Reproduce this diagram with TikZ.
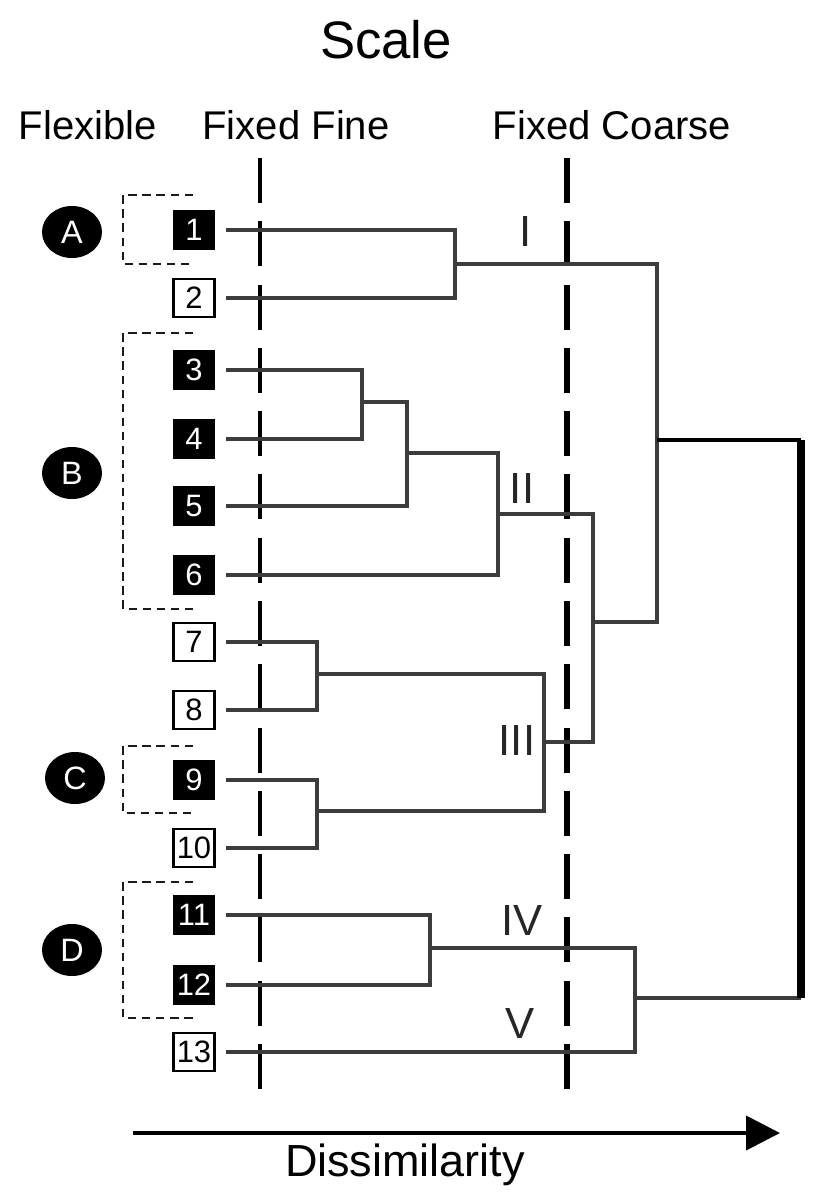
\documentclass[tikz,border=0pt]{standalone}
\usepackage{fontspec}
\setmainfont{Liberation Sans}
\usepackage{tikz}
\usetikzlibrary{positioning,shapes.geometric,arrows.meta}

\definecolor{linkgray}{HTML}{3C3C3C}
\definecolor{boxgray}{HTML}{1A1A1A}

\tikzset{
  leafdark/.style={draw=black, fill=black, text=white, line width=1pt, minimum width=1.02cm,
    minimum height=0.95cm, inner sep=0pt, outer xsep=0.3cm, font=\fontsize{22}{22}\selectfont},
  leaflight/.style={leafdark, fill=white, text=black, line width=2pt},
  grpmark/.style={ellipse, fill=black, text=white, minimum width=1.5cm, minimum height=1.3cm,
    inner sep=0pt, font=\fontsize{23}{23}\selectfont},
  grpbox/.style={draw=boxgray, line width=1.4pt, dash pattern=on 6pt off 4pt},
  link/.style={draw=linkgray, line width=2.4pt},
  rootlink/.style={draw=black, line width=3.5pt},
  cutline/.style={draw=black, dash pattern=on 32pt off 13pt},
  roman/.style={text=black!85, font=\fontsize{31}{31}\selectfont},
  heading/.style={font=\fontsize{28.5}{28.5}\selectfont},
}

\begin{document}
\begin{tikzpicture}[x=0.025cm, y=-0.025cm]
  \useasboundingbox (0,0) rectangle (821,1197);

  % titles
  \node[font=\fontsize{37.5}{37.5}\selectfont] (scale) at (386,40) {Scale};
  \node[heading] (flex) at (88,125) {Flexible};
  \node[heading] (fine) at (296,125) {Fixed Fine};
  \node[heading] (coarse) at (612,125) {Fixed Coarse};

  % scale cuts
  \draw[cutline, line width=3pt] (260,158) -- (260,1090);
  \draw[cutline, line width=4.2pt] (567,158) -- (567,1090);

  % leaves
  \node[leafdark]  (l1)  at (194,230)  {1};
  \node[leaflight] (l2)  at (194,298)  {2};
  \node[leafdark]  (l3)  at (194,370)  {3};
  \node[leafdark]  (l4)  at (194,439)  {4};
  \node[leafdark]  (l5)  at (194,506)  {5};
  \node[leafdark]  (l6)  at (194,575)  {6};
  \node[leaflight] (l7)  at (194,642)  {7};
  \node[leaflight] (l8)  at (194,710)  {8};
  \node[leafdark]  (l9)  at (194,780)  {9};
  \node[leaflight] (l10) at (194,848)  {10};
  \node[leafdark]  (l11) at (194,915)  {11};
  \node[leafdark]  (l12) at (194,985)  {12};
  \node[leaflight] (l13) at (194,1052) {13};

  % groups
  \node[grpmark] (gA) at (72,232) {A};
  \node[grpmark] (gB) at (72,473) {B};
  \node[grpmark] (gC) at (75,778) {C};
  \node[grpmark] (gD) at (72,950) {D};
  \draw[grpbox] (193,195) -| (123,264) -- (193,264);
  \draw[grpbox] (193,333) -| (123,609) -- (193,609);
  \draw[grpbox] (193,746) -| (123,813) -- (193,813);
  \draw[grpbox] (193,882) -| (123,1018) -- (193,1018);

  % merge points
  \coordinate (m12)   at (455,264);
  \coordinate (m34)   at (362,402);
  \coordinate (m345)  at (407,453);
  \coordinate (mII)   at (498,514);
  \coordinate (m78)   at (317,674);
  \coordinate (m910)  at (317,811);
  \coordinate (mIII)  at (544,742);
  \coordinate (mIIx)  at (593,622);
  \coordinate (mtop)  at (657,440);
  \coordinate (m1112) at (430,948);
  \coordinate (mIV)   at (635,998);
  \coordinate (rtop)  at (801,440);
  \coordinate (rbot)  at (801,998);

  % dendrogram
  \draw[link] (l1) -| (m12);
  \draw[link] (l2) -| (m12);
  \draw[link] (m12) -| (mtop);
  \draw[link] (l3) -| (m34);
  \draw[link] (l4) -| (m34);
  \draw[link] (m34) -| (m345);
  \draw[link] (l5) -| (m345);
  \draw[link] (m345) -| (mII);
  \draw[link] (l6) -| (mII);
  \draw[link] (l7) -| (m78);
  \draw[link] (l8) -| (m78);
  \draw[link] (l9) -| (m910);
  \draw[link] (l10) -| (m910);
  \draw[link] (m78) -| (mIII);
  \draw[link] (m910) -| (mIII);
  \draw[link] (mII) -| (mIIx);
  \draw[link] (mIII) -| (mIIx);
  \draw[link] (mIIx) -| (mtop);
  \draw[link] (l11) -| (m1112);
  \draw[link] (l12) -| (m1112);
  \draw[link] (m1112) -| (mIV);
  \draw[link] (l13) -| (mIV);
  \draw[link] (mIV) -- (rbot);
  \draw[rootlink] (mtop) -- (rtop);
  \draw[rootlink, line width=5pt] (rtop) -- (rbot);

  % cluster labels
  \node[roman] (cI)   at (526,231)  {I};
  \node[roman] (cII)  at (522,488)  {II};
  \node[roman] (cIII) at (517,740)  {III};
  \node[roman] (cIV)  at (522,920)  {IV};
  \node[roman] (cV)   at (520,1023) {V};

  % axis
  \coordinate (dstart) at (133,1133);
  \coordinate (dend)   at (780,1133);
  \draw[line width=2.8pt, -{Triangle[length=0.85cm, width=0.85cm]}] (dstart) -- (dend);
  \node[font=\fontsize{32}{32}\selectfont] (dis) at (405,1165) {Dissimilarity};
\end{tikzpicture}
\end{document}
